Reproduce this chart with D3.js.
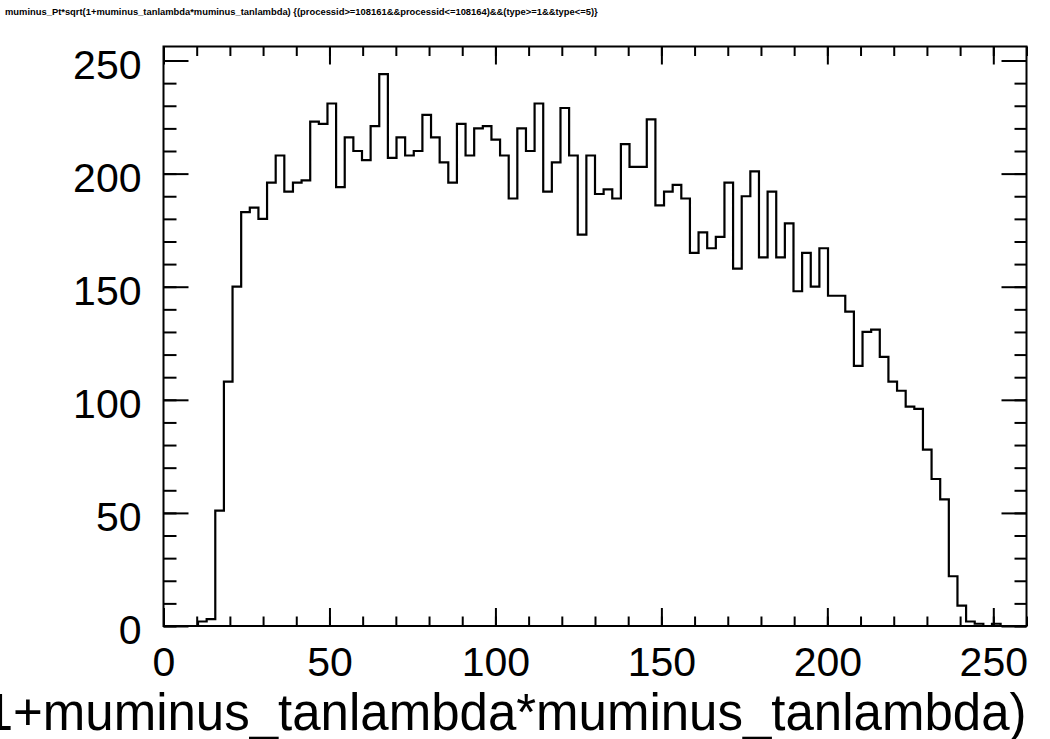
<!DOCTYPE html>
<html>
<head>
<meta charset="utf-8">
<script src="https://cdn.jsdelivr.net/npm/d3@7"></script>
<style>
  body { margin: 0; background: #fff; }
  text { font-family: "Liberation Sans", Arial, Helvetica, sans-serif; }
</style>
</head>
<body>
<script>
// histogram: 100 bins from 0 to 260
let xMin = 0, xMax = 260, nBins = 100;
let counts = [
  0, 0, 0, 0, 2, 3, 51, 108, 150, 183,
  185, 180, 196, 208, 192, 196, 197, 223, 222, 231,
  194, 216, 210, 206, 221, 244, 207, 216, 208, 210,
  226, 216, 205, 196, 222, 208, 220, 221, 215, 208,
  189, 220, 210, 231, 192, 205, 229, 208, 173, 208,
  191, 193, 189, 213, 203, 203, 224, 186, 192, 195,
  189, 165, 174, 167, 172, 196, 158, 190, 201, 163,
  192, 163, 178, 148, 165, 150, 167, 146, 146, 139,
  115, 130, 131, 119, 108, 104, 97, 96, 78, 65,
  56, 22, 9, 2, 1, 0, 1, 0, 0, 0
];
let xMajor = [0, 50, 100, 150, 200, 250];
let yMajor = [0, 50, 100, 150, 200, 250];
let title = "muminus_Pt*sqrt(1+muminus_tanlambda*muminus_tanlambda) {(processid>=108161&&processid<=108164)&&(type>=1&&type<=5)}";
let xTitle = "muminus_Pt*sqrt(1+muminus_tanlambda*muminus_tanlambda)";

let svg = d3.select("body").append("svg")
  .attr("width", 1050)
  .attr("height", 739);

let margin = { top: 46.5, right: 23.5, bottom: 113, left: 163.5 };
let width = +svg.attr("width");
let height = +svg.attr("height");

let yMax = d3.max(counts) * 1.05; // root leaves 5% headroom

let x = d3.scaleLinear().domain([xMin, xMax]).range([margin.left, width - margin.right]);
let y = d3.scaleLinear().domain([0, yMax]).range([height - margin.bottom, margin.top]);

let binW = (xMax - xMin) / nBins;
let xMinor = d3.range(xMin, xMax + 0.001, 10);
let yMinor = d3.range(0, yMax, 10);

// page title
svg.append("text")
  .attr("x", 5)
  .attr("y", 15)
  .attr("font-size", 9.4)
  .attr("font-weight", "bold")
  .text(title);

// ticks on all four sides, pointing inward
function tickAxis(axis, ticks, size, transform, labels) {
  let g = svg.append("g")
    .attr("transform", transform)
    .call(axis.tickValues(ticks).tickSize(size).tickFormat(labels ? d3.format("d") : ""));
  g.select(".domain").remove();
  g.selectAll("line").attr("stroke", "#000").attr("stroke-width", 2);
  return g;
}

let bottomY = y(0), topY = y(yMax), leftX = x(xMin), rightX = x(xMax);

let xLab = tickAxis(d3.axisBottom(x).tickPadding(21), xMajor, -18, `translate(0,${bottomY})`, true);
tickAxis(d3.axisBottom(x), xMinor, -9.5, `translate(0,${bottomY})`, false);
tickAxis(d3.axisTop(x), xMajor, -18, `translate(0,${topY})`, false);
tickAxis(d3.axisTop(x), xMinor, -9.5, `translate(0,${topY})`, false);

let yLab = tickAxis(d3.axisLeft(y).tickPadding(22), yMajor, -25, `translate(${leftX},0)`, true);
tickAxis(d3.axisLeft(y), yMinor, -13, `translate(${leftX},0)`, false);
tickAxis(d3.axisRight(y), yMajor, -25, `translate(${rightX},0)`, false);
tickAxis(d3.axisRight(y), yMinor, -12, `translate(${rightX},0)`, false);

xLab.selectAll("text").attr("font-size", 41).attr("font-family", "Liberation Sans").attr("fill", "#000");
yLab.selectAll("text").attr("font-size", 41).attr("font-family", "Liberation Sans").attr("fill", "#000")
  .attr("dy", "0.43em");

// histogram outline as steps
let pts = [];
counts.forEach((c, i) => {
  pts.push([xMin + i * binW, c]);
  pts.push([xMin + (i + 1) * binW, c]);
});
pts.push([xMax, 0]);

let line = d3.line()
  .x(d => x(d[0]))
  .y(d => y(d[1]));

svg.append("path")
  .datum(pts)
  .attr("d", line)
  .attr("fill", "none")
  .attr("stroke", "#000")
  .attr("stroke-width", 2.2)
  .attr("stroke-linejoin", "miter");

// frame
svg.append("rect")
  .attr("x", leftX)
  .attr("y", topY)
  .attr("width", rightX - leftX)
  .attr("height", bottomY - topY)
  .attr("fill", "none")
  .attr("stroke", "#000")
  .attr("stroke-width", 2);

// x axis title, right aligned, runs off the left edge like the reference
svg.append("text")
  .attr("x", rightX)
  .attr("y", 730)
  .attr("text-anchor", "end")
  .attr("font-size", 51)
  .text(xTitle);
</script>
</body>
</html>
